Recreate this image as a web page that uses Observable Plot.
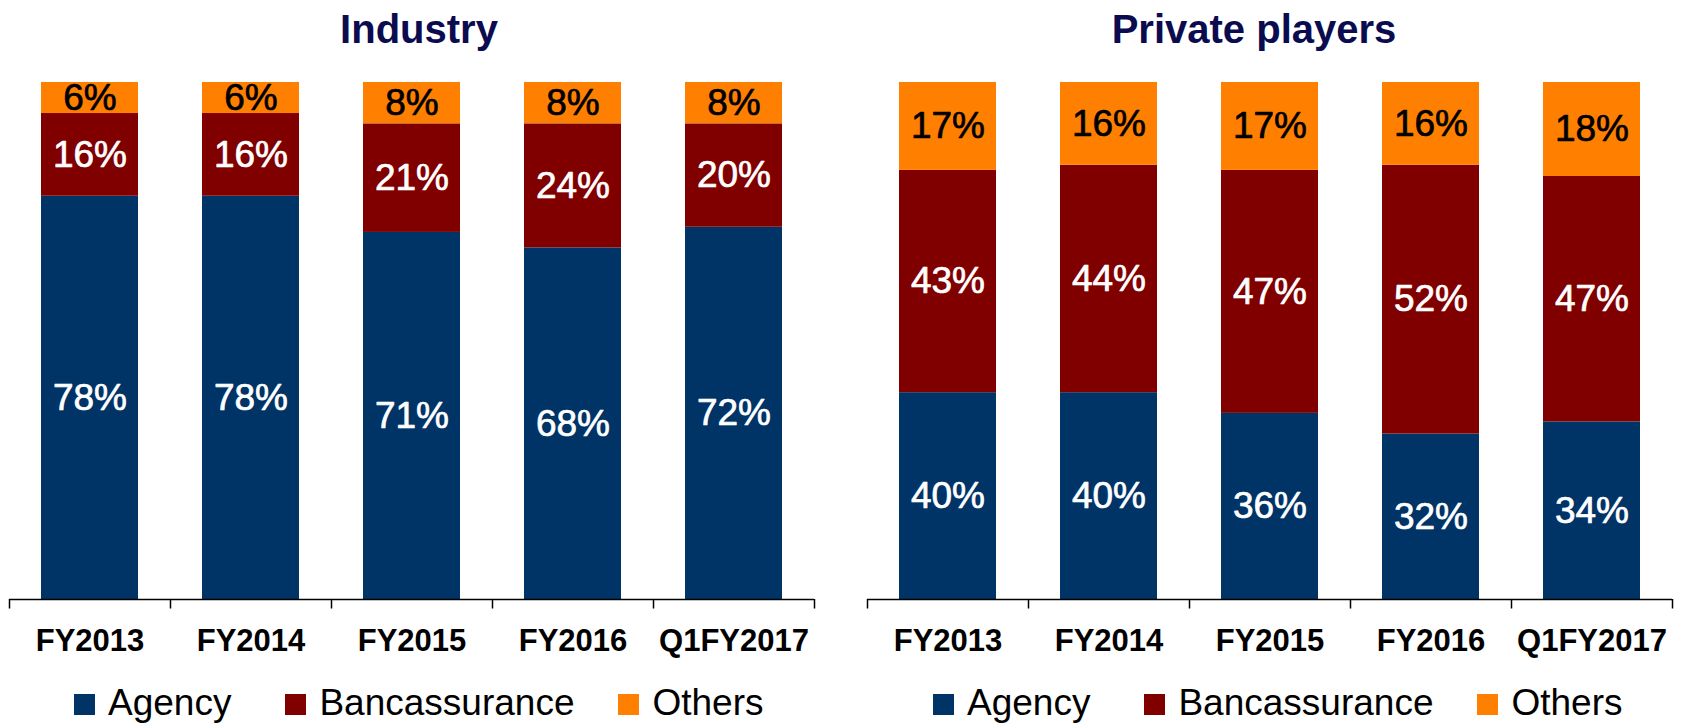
<!DOCTYPE html>
<html><head><meta charset="utf-8">
<script src="https://cdn.jsdelivr.net/npm/d3@7"></script>
<script src="https://cdn.jsdelivr.net/npm/@observablehq/plot@0.6"></script>
<style>
html,body{margin:0;padding:0;background:#fff;overflow:hidden;}
#wrap{position:relative;width:1681px;height:723px;font-family:"Liberation Sans",Arial,sans-serif;}
.title{position:absolute;top:9px;width:400px;text-align:center;font-size:40px;line-height:40px;font-weight:bold;color:#0b0b4f;white-space:nowrap;}
.chart{position:absolute;top:60px;}
.legend{position:absolute;top:685px;font-size:37px;line-height:36px;white-space:nowrap;color:#000;}
.legend .sw{display:inline-block;width:21px;height:21px;margin-right:13px;}
</style>
</head><body>
<div id="wrap"></div>
<script>
const categories = ["FY2013", "FY2014", "FY2015", "FY2016", "Q1FY2017"];
const seriesNames = ["Agency", "Bancassurance", "Others"];
const seriesColors = ["#003366", "#800000", "#ff8000"];
const panelTitles = ["Industry", "Private players"];

const industryAgency = [78, 78, 71, 68, 72];
const industryBanca = [16, 16, 21, 24, 20];
const industryOthers = [6, 6, 8, 8, 8];

const privateAgency = [40, 40, 36, 32, 34];
const privateBanca = [43, 44, 47, 52, 47];
const privateOthers = [17, 16, 17, 16, 18];

function rowsFor(a, b, o) {
  const rows = [];
  [a, b, o].forEach((vals, s) => {
    vals.forEach((v, i) => rows.push({cat: categories[i], series: seriesNames[s], value: v}));
  });
  return rows;
}

const FONT = '"Liberation Sans", Arial, sans-serif';

function makeChart(rows, width, mr) {
  const ml = 9, mt = 22, mb = 71, H = 610;
  const step = (width - ml - mr) / categories.length;
  const tickLen = 9.5 / (H - mt - mb);
  const last = categories[categories.length - 1];
  return Plot.plot({
    width, height: H,
    marginLeft: ml, marginRight: mr, marginTop: mt, marginBottom: mb,
    style: {fontFamily: FONT, background: "transparent", color: "#000", overflow: "visible"},
    x: {domain: categories, paddingInner: 0.4, paddingOuter: 0.2, label: null},
    y: {domain: [0, 1], axis: null},
    color: {domain: seriesNames, range: seriesColors},
    marks: [
      Plot.barY(rows, Plot.stackY({x: "cat", y: "value", fill: "series", offset: "normalize"})),
      Plot.text(rows, Plot.stackY({
        x: "cat", y: "value", z: "series", offset: "normalize",
        text: d => d.series === "Others" ? "" : d.value + "%",
        fill: "#ffffff", stroke: "#ffffff", strokeWidth: 0.7, fontSize: 37
      })),
      Plot.text(rows, Plot.stackY({
        x: "cat", y: "value", z: "series", offset: "normalize",
        text: d => d.series === "Others" ? d.value + "%" : "",
        fill: "#000000", stroke: "#000000", strokeWidth: 0.7, fontSize: 37
      })),
      Plot.ruleY([0], {stroke: "#000", strokeWidth: 1.5}),
      Plot.ruleX(categories, {x: d => d, dx: -step / 2, y1: 0, y2: -tickLen, stroke: "#000", strokeWidth: 1.5}),
      Plot.ruleX([last], {x: d => d, dx: step / 2, y1: 0, y2: -tickLen, stroke: "#000", strokeWidth: 1.5}),
      Plot.axisX({tickSize: 0, tickPadding: 29, fontSize: 31, fontWeight: "bold", fill: "#000", label: null})
    ]
  });
}

const wrap = document.getElementById("wrap");
const legendGaps = [54, 44, 0];

function addPanel(idx, rows, left, width, mr, titleCenter, legendLeft) {
  const t = document.createElement("div");
  t.className = "title";
  t.textContent = panelTitles[idx];
  t.style.left = (titleCenter - 200) + "px";
  wrap.appendChild(t);

  const c = document.createElement("div");
  c.className = "chart";
  c.style.left = left + "px";
  c.appendChild(makeChart(rows, width, mr));
  wrap.appendChild(c);

  const lg = document.createElement("div");
  lg.className = "legend";
  lg.style.left = legendLeft + "px";
  seriesNames.forEach((s, i) => {
    const it = document.createElement("span");
    it.style.marginRight = legendGaps[i] + "px";
    const sw = document.createElement("span");
    sw.className = "sw";
    sw.style.background = seriesColors[i];
    it.appendChild(sw);
    it.appendChild(document.createTextNode(s));
    lg.appendChild(it);
  });
  wrap.appendChild(lg);
}

addPanel(0, rowsFor(industryAgency, industryBanca, industryOthers), 0, 840, 26, 419, 74);
addPanel(1, rowsFor(privateAgency, privateBanca, privateOthers), 858, 823, 9, 1254, 933);
</script>
</body></html>
